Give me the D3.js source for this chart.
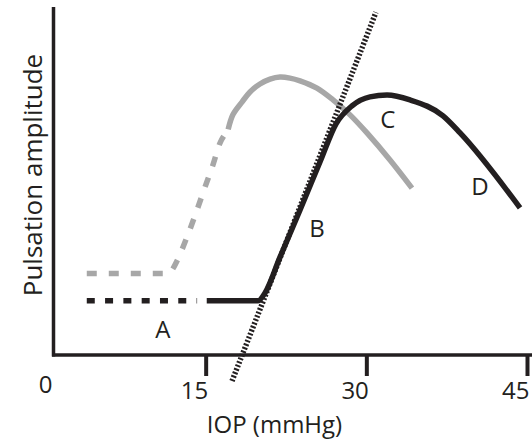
<!DOCTYPE html>
<html lang="en">
<head>
<meta charset="utf-8">
<title>Pulsation amplitude vs IOP</title>
<script src="https://d3js.org/d3.v7.min.js"></script>
<style>
  body { margin: 0; background: #fff; }
  text { font-family: "Open Sans", sans-serif; fill: #231f20; }
</style>
</head>
<body>
<svg id="chart" width="532" height="441"></svg>
<script>
// IOP (mmHg) values and amplitudes (arbitrary units, 0-100)
var xTicks = [0, 15, 30, 45];

// black curve, dotted flat start
var blackDotX = [3.9, 14.2];
var blackDotY = [15.65, 15.65];
// black curve, solid part
var blackX = [15.1, 19.9, 20.54, 21.94, 23.81, 25.67, 27.17, 28.66, 30.34, 31.93, 34.08, 37.16, 38.75, 44.35];
var blackY = [15.65, 15.65, 17.9, 28.2, 41.8, 55.6, 66.6, 71.8, 74.4, 74.9, 73.5, 68.9, 64.0, 42.4];

// grey curve, dashed start
var greyDashX = [3.9, 11.39, 11.86, 12.32, 13.26, 14.19, 14.94, 15.68, 16.34, 16.9];
var greyDashY = [23.5, 23.5, 24.5, 27.1, 34.0, 41.8, 48.4, 54.8, 61.1, 64.0];
// grey curve, solid part
var greyX = [17.1, 17.55, 18.39, 19.14, 20.07, 21.01, 21.94, 22.87, 23.81, 25.39, 26.89, 28.48, 30.06, 32.21, 34.26];
var greyY = [65.0, 69.3, 72.9, 75.8, 78.1, 79.5, 80.1, 79.8, 79.0, 76.9, 73.5, 69.2, 64.0, 56.2, 48.1];

// tangent through the rising part
var tangentX = [17.46, 30.9];
var tangentY = [-7.5, 98.8];

// region letters
var regionNames = ["A", "B", "C", "D"];
var regionX = [11.0, 25.4, 32.0, 40.6];
var regionY = [4.9, 34.0, 65.4, 46.1];

var svg = d3.select("#chart");
var ink = "#231f20", grey = "#a7a7a7";

var x = d3.scaleLinear().domain([0, 45]).range([45, 527]);
var y = d3.scaleLinear().domain([0, 100]).range([355, 8]);

function pts(xs, ys) { return xs.map(function(v, i) { return [v, ys[i]]; }); }

var line = d3.line()
  .x(function(d) { return x(d[0]); })
  .y(function(d) { return y(d[1]); })
  .curve(d3.curveMonotoneX);

var smooth = d3.line()
  .x(function(d) { return x(d[0]); })
  .y(function(d) { return y(d[1]); })
  .curve(d3.curveCatmullRom.alpha(0.5));

// axes
svg.append("line")
  .attr("x1", 53.5).attr("x2", 53.5).attr("y1", 7).attr("y2", 356.5)
  .attr("stroke", ink).attr("stroke-width", 3.5);
svg.append("line")
  .attr("x1", 52).attr("x2", 532).attr("y1", 355).attr("y2", 355)
  .attr("stroke", ink).attr("stroke-width", 3.5);

var xAxis = d3.axisBottom(x).tickValues(xTicks).tickSize(21).tickSizeOuter(0);
var gx = svg.append("g").attr("transform", "translate(0,355)").call(xAxis);
gx.select(".domain").remove();
gx.selectAll(".tick line")
  .attr("stroke", ink).attr("stroke-width", 4)
  .attr("display", function(d) { return d === 0 ? "none" : null; });
gx.selectAll(".tick text")
  .attr("font-size", 24).attr("fill", ink)
  .attr("text-anchor", "end")
  .attr("dy", null)
  .attr("x", function(d) { return d === 0 ? 7 : 2; })
  .attr("y", function(d) { return d === 0 ? 38 : 44; })
  .style("font-family", "'Open Sans', sans-serif");

// axis titles
svg.append("text")
  .attr("x", 274.5).attr("y", 433)
  .attr("text-anchor", "middle").attr("font-size", 24)
  .text("IOP (mmHg)");
svg.append("text")
  .attr("transform", "translate(42,175) rotate(-90)")
  .attr("text-anchor", "middle").attr("font-size", 26)
  .text("Pulsation amplitude");

// grey curve
svg.append("path").datum(pts(greyDashX, greyDashY))
  .attr("d", line).attr("fill", "none")
  .attr("stroke", grey).attr("stroke-width", 5.5)
  .attr("stroke-dasharray", "10,12");
svg.append("path").datum(pts(greyX, greyY))
  .attr("d", smooth).attr("fill", "none")
  .attr("stroke", grey).attr("stroke-width", 5.5)
  .attr("stroke-linecap", "butt");

// black curve
svg.append("path").datum(pts(blackDotX, blackDotY))
  .attr("d", line).attr("fill", "none")
  .attr("stroke", ink).attr("stroke-width", 5.5)
  .attr("stroke-dasharray", "8,10.3");
svg.append("path").datum(pts(blackX, blackY))
  .attr("d", line).attr("fill", "none")
  .attr("stroke", ink).attr("stroke-width", 5.5)
  .attr("stroke-linejoin", "round");

// tangent (hatched/dotted)
svg.append("path").datum(pts(tangentX, tangentY))
  .attr("d", d3.line().x(function(d) { return x(d[0]); }).y(function(d) { return y(d[1]); }))
  .attr("fill", "none")
  .attr("stroke", ink).attr("stroke-width", 5.5)
  .attr("stroke-dasharray", "2,1.8");

// region letters
svg.selectAll("text.region")
  .data(regionNames)
  .enter()
  .append("text")
  .attr("class", "region")
  .attr("x", function(d, i) { return x(regionX[i]); })
  .attr("y", function(d, i) { return y(regionY[i]); })
  .attr("text-anchor", "middle")
  .attr("font-size", 24)
  .text(function(d) { return d; });
</script>
</body>
</html>
